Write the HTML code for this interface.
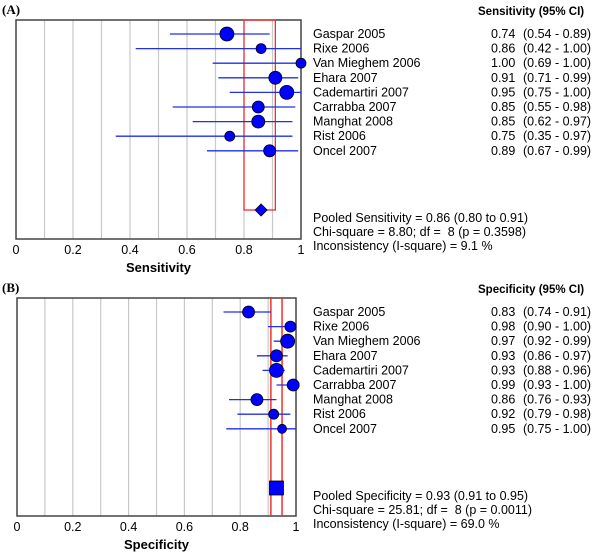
<!DOCTYPE html>
<html><head><meta charset="utf-8"><style>
body{margin:0;background:#fff;}
svg{display:block;font-family:"Liberation Sans",Arial,sans-serif;}
text{white-space:pre;}
</style></head><body>
<svg id="c" width="600" height="554" viewBox="0 0 600 554"></svg>
<script>
const studies=["Gaspar 2005","Rixe 2006","Van Mieghem 2006","Ehara 2007","Cademartiri 2007","Carrabba 2007","Manghat 2008","Rist 2006","Oncel 2007"];
const sensEst=[0.74,0.86,1.00,0.91,0.95,0.85,0.85,0.75,0.89];
const sensLo=[0.54,0.42,0.69,0.71,0.75,0.55,0.62,0.35,0.67];
const sensHi=[0.89,1.00,1.00,0.99,1.00,0.98,0.97,0.97,0.99];
const sensW=[7,5,5,6.5,7,6,6.5,5,6];
const specEst=[0.83,0.98,0.97,0.93,0.93,0.99,0.86,0.92,0.95];
const specLo=[0.74,0.90,0.92,0.86,0.88,0.93,0.76,0.79,0.75];
const specHi=[0.91,1.00,0.99,0.97,0.96,1.00,0.93,0.98,1.00];
const specW=[6,5.5,7,6,7,6,6,5,4.5];
const sensPooled=[0.86,0.80,0.91];
const specPooled=[0.93,0.91,0.95];
const tickLabels=["0","0.2","0.4","0.6","0.8","1"];
const NS="http://www.w3.org/2000/svg";
const svg=document.getElementById('c');
function mk(t,a,p){const e=document.createElementNS(NS,t);for(const k in a)e.setAttribute(k,a[k]);(p||svg).appendChild(e);return e;}
function txt(x,y,s,a,p){const e=mk('text',Object.assign({x:x,y:y,'font-size':12.5,fill:'#000'},a||{}),p);e.textContent=s;return e;}
function panel(o){
  const g=mk('g',{});
  
  
  const X=v=>o.x0+v*(o.x1-o.x0);
  const rowY=i=>o.r0+i*o.dr;
  const l=txt(2,o.top-6,o.label,{'font-family':'Liberation Serif,serif','font-weight':'bold','font-size':13},g);
  
  for(let k=1;k<10;k++){const gl=mk('line',{x1:X(k/10),x2:X(k/10),y1:o.top,y2:o.bot,stroke:'#c8c8c8','stroke-width':1.2},g);
    }
  const fr=mk('rect',{x:o.x0,y:o.top,width:o.x1-o.x0,height:o.bot-o.top,fill:'none',stroke:'#444','stroke-width':1.5},g);
  
  const pl=o.pooled;
  if(o.box){const r=mk('rect',{x:X(pl[1]),y:o.top,width:X(pl[2])-X(pl[1]),height:o.py-o.top,fill:'none',stroke:'#f03030','stroke-width':1.3},g);
    }
  else{[1,2].forEach(j=>{const r=mk('line',{x1:X(pl[j]),x2:X(pl[j]),y1:o.top,y2:o.bot,stroke:'#f03030','stroke-width':1.5},g);
    });}
  studies.forEach((s,i)=>{const y=rowY(i);
    const ci=mk('line',{x1:X(o.lo[i]),x2:X(o.hi[i]),y1:y,y2:y,stroke:'#2030e8','stroke-width':1.3},g);
    
    const c=mk('circle',{cx:X(o.est[i]),cy:y,r:o.w[i],fill:'#0000ff',stroke:'#000','stroke-width':0.8},g);
    
    const n=txt(313,y+4,s,{},g);
    const v=txt(491,y+4,o.est[i].toFixed(2),{},g);
    const q=txt(523,y+4,'('+o.lo[i].toFixed(2)+' - '+o.hi[i].toFixed(2)+')',{},g);
  });
  const px=X(pl[0]),py=o.py;
  let pm;
  if(o.box) pm=mk('polygon',{points:`${px},${py-6} ${px+6},${py} ${px},${py+6} ${px-6},${py}`,fill:'#0000ff',stroke:'#000','stroke-width':0.8},g);
  else pm=mk('rect',{x:px-7,y:py-7,width:14,height:14,fill:'#0000ff',stroke:'#000','stroke-width':0.8},g);
  
  tickLabels.forEach((t,k)=>{const e=txt(X(k*0.2),o.bot+15,t,{'text-anchor':'middle','font-size':12.5},g);
    });
  const at=txt((o.x0+o.x1)/2,o.bot+33,o.axis,{'text-anchor':'middle','font-weight':'bold','font-size':13},g);
  
  const h=txt(478,o.top-5,o.axis+' (95% CI)',{'font-weight':'bold','font-size':11.5},g);
  
  o.stats.forEach((s,k)=>{const e=txt(313,o.sy+k*14,s,{},g);});
}
panel({name:'sensitivity-panel',label:'(A)',axis:'Sensitivity',x0:16,x1:301,top:20,bot:239,r0:34,dr:14.6,py:210,box:true,
  est:sensEst,lo:sensLo,hi:sensHi,w:sensW,pooled:sensPooled,sy:222,
  stats:['Pooled Sensitivity = 0.86 (0.80 to 0.91)','Chi-square = 8.80; df =  8 (p = 0.3598)','Inconsistency (I-square) = 9.1 %']});
panel({name:'specificity-panel',label:'(B)',axis:'Specificity',x0:17,x1:296,top:298,bot:516,r0:312,dr:14.6,py:488,box:false,
  est:specEst,lo:specLo,hi:specHi,w:specW,pooled:specPooled,sy:500,
  stats:['Pooled Specificity = 0.93 (0.91 to 0.95)','Chi-square = 25.81; df =  8 (p = 0.0011)','Inconsistency (I-square) = 69.0 %']});
</script>
</body></html>
